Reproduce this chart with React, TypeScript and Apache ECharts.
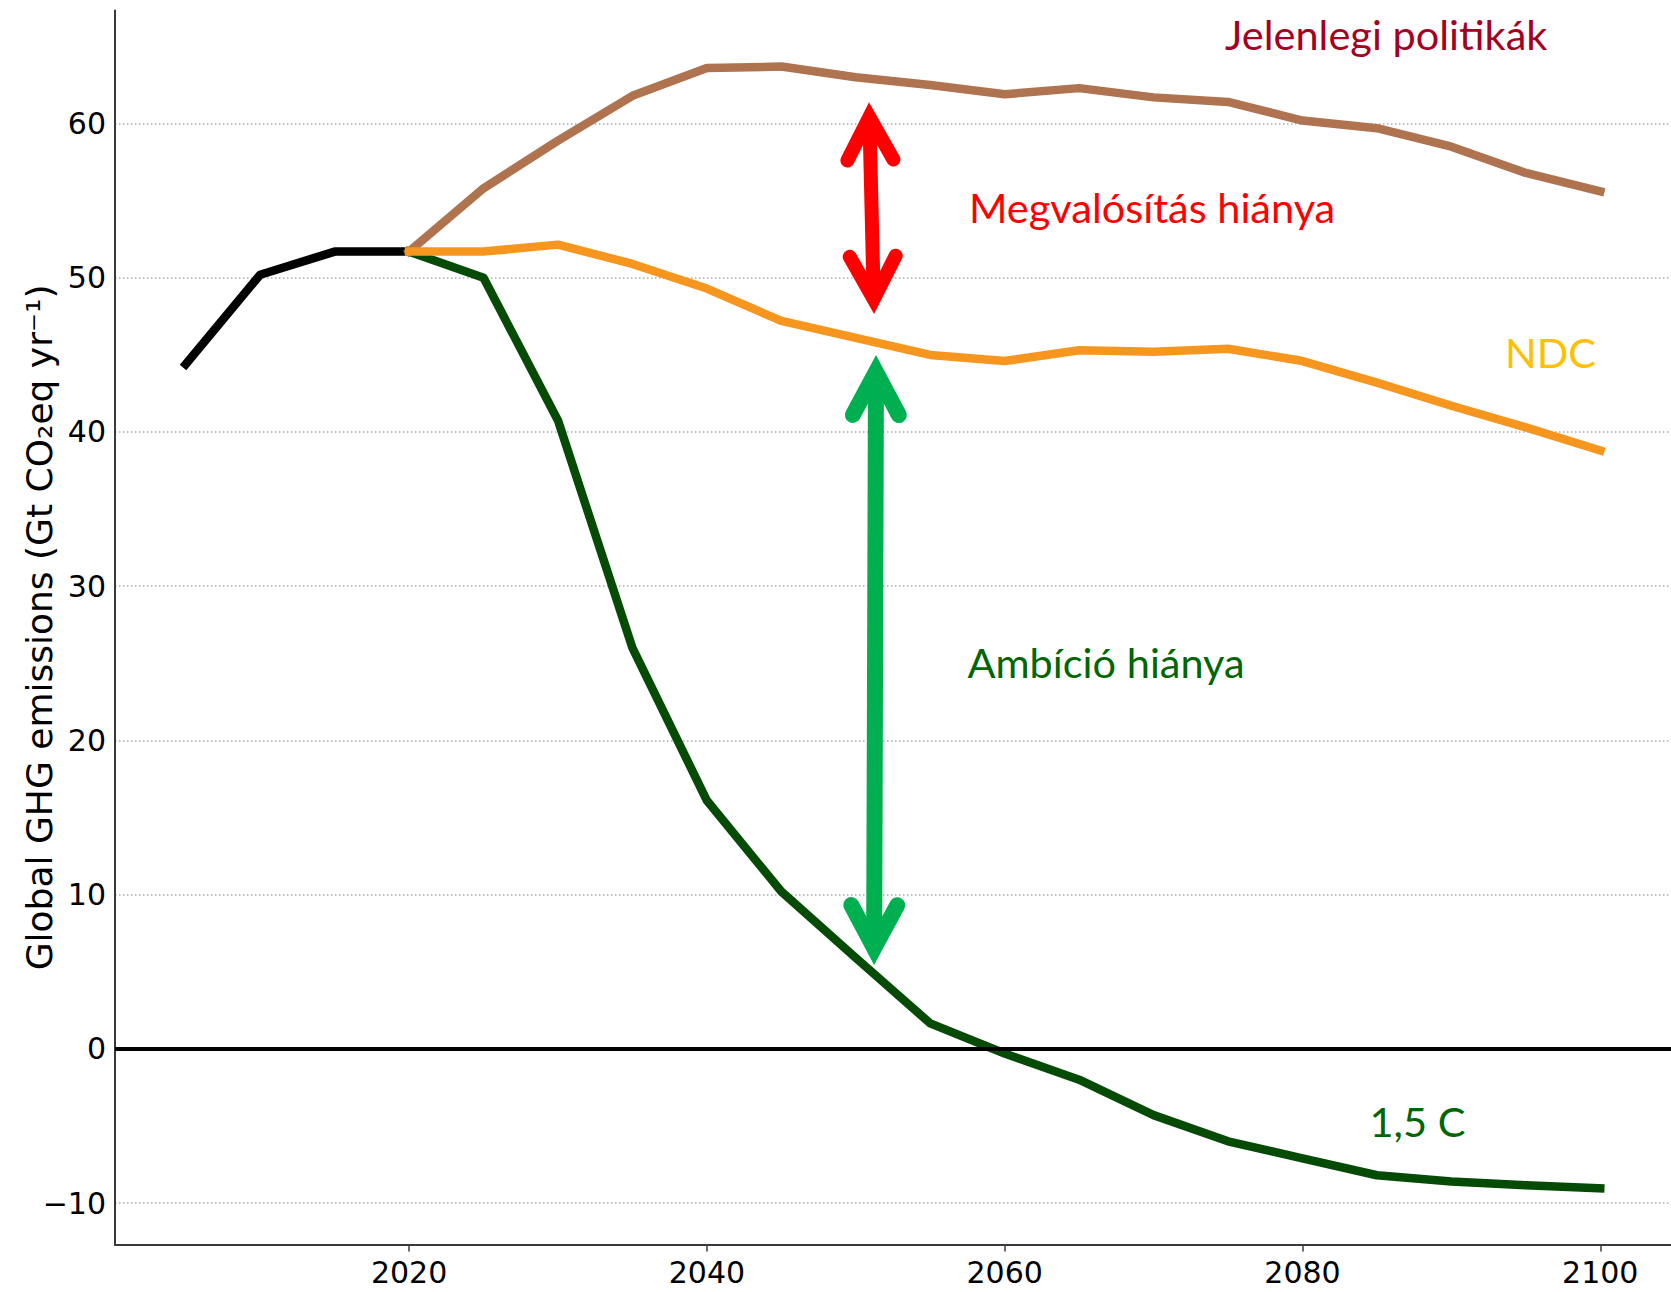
import React, { useEffect, useRef } from "react";
import * as echarts from "echarts";

// ---------- data ----------
const historicYears = [2005, 2010, 2015, 2020];
const historic = [44.4, 50.2, 51.7, 51.7];

const scenarioYears = [2020, 2025, 2030, 2035, 2040, 2045, 2050, 2055, 2060, 2065, 2070, 2075, 2080, 2085, 2090, 2095, 2100];
const currentPolicies = [51.7, 55.8, 58.9, 61.8, 63.6, 63.7, 63.0, 62.5, 61.9, 62.3, 61.7, 61.4, 60.2, 59.7, 58.5, 56.8, 55.6];
const ndc = [51.7, 51.7, 52.15, 50.9, 49.3, 47.2, 46.1, 45.0, 44.6, 45.3, 45.2, 45.4, 44.6, 43.2, 41.7, 40.3, 38.8];
const path15 = [51.7, 50.0, 40.75, 26.0, 16.1, 10.2, 5.9, 1.65, -0.3, -2.0, -4.3, -6.0, -7.1, -8.2, -8.6, -8.85, -9.05];

const xTicks = [2020, 2040, 2060, 2080, 2100];
const yTicks = [-10, 0, 10, 20, 30, 40, 50, 60];
const xRange = [2000.25, 2104.75];
const yRange = [-12.69, 67.34];

const yAxisTitle = "Global GHG emissions (Gt CO\u2082eq yr\u207B\u00B9)";

// annotation anchors in data coordinates
const annotations = [
  { text: "Jelenlegi politikák", x: 2074.8, y: 65.8, color: "#a50021" },
  { text: "Megvalósítás hiánya", x: 2057.6, y: 54.6, color: "#ff0000" },
  { text: "NDC", x: 2093.6, y: 45.19, color: "#ffc000" },
  { text: "Ambíció hiánya", x: 2057.5, y: 25.1, color: "#006600" },
  { text: "1,5 C", x: 2084.5, y: -4.68, color: "#006600" },
];

const gapArrows = [
  { top: [2050.89, 61.39], bottom: [2051.23, 47.65], color: "#ff0000", width: 14 },
  { top: [2051.36, 44.99], bottom: [2051.23, 5.43], color: "#00b050", width: 16 },
];

const pairs = (xs: number[], ys: number[]) => xs.map((x, i) => [x, ys[i]]);

const minus = (v: number) => (v < 0 ? "\u2212" + Math.abs(v) : String(v));

export default function App() {
  const ref = useRef<HTMLDivElement>(null);

  useEffect(() => {
    if (!ref.current) return;
    const chart = echarts.init(ref.current, undefined, { renderer: "svg" });

    const lineBase = (name: string, data: number[][], color: string, z: number) => ({
      name,
      type: "line",
      data,
      showSymbol: false,
      symbol: "none",
      z,
      lineStyle: { color, width: 8.5, cap: "square", join: "round" },
      silent: true,
    });

    const blackSeries: any = lineBase("Historic", pairs(historicYears, historic), "#000000", 3);
    blackSeries.markLine = {
      silent: true,
      symbol: ["none", "none"],
      label: { show: false },
      lineStyle: { color: "#000000", width: 4, type: "solid" },
      data: [{ yAxis: 0 }],
    };

    chart.setOption({
      animation: false,
      backgroundColor: "#ffffff",
      grid: {
        left: 115,
        right: 0,
        top: 10.4,
        bottom: 47.5,
        containLabel: false,
        outerBoundsMode: "none",
      },
      xAxis: {
        type: "value",
        min: xRange[0],
        max: xRange[1],
        axisLine: { show: true, onZero: false, lineStyle: { color: "#3a3a3a", width: 2 } },
        axisTick: {
          show: true,
          inside: false,
          length: 7,
          customValues: xTicks,
          lineStyle: { color: "#3a3a3a", width: 1.5 },
        },
        axisLabel: {
          customValues: xTicks,
          margin: 13,
          color: "#000000",
          fontFamily: "DejaVu Sans",
          fontSize: 30,
          formatter: (v: number) => String(v),
        },
        splitLine: { show: false },
      },
      yAxis: {
        type: "value",
        min: yRange[0],
        max: yRange[1],
        name: yAxisTitle,
        nameLocation: "middle",
        nameRotate: 90,
        nameGap: 58,
        nameMoveOverlap: false,
        nameTextStyle: { color: "#000000", fontFamily: "DejaVu Sans", fontSize: 36 },
        axisLine: { show: true, onZero: false, lineStyle: { color: "#3a3a3a", width: 2 } },
        axisTick: { show: false, customValues: yTicks },
        axisLabel: {
          customValues: yTicks,
          margin: 9,
          color: "#000000",
          fontFamily: "DejaVu Sans",
          fontSize: 30,
          formatter: (v: number) => minus(v),
        },
        splitLine: {
          show: true,
          lineStyle: { color: "#aaaaaa", width: 1.5, type: [1.5, 2.5] },
        },
      },
      series: [
        blackSeries,
        lineBase("1,5 C", pairs(scenarioYears, path15), "#054a05", 4),
        lineBase("Jelenlegi politikák", pairs(scenarioYears, currentPolicies), "#b07350", 5),
        lineBase("NDC", pairs(scenarioYears, ndc), "#f7961f", 6),
      ],
    });

    const toPx = (p: number[]) => chart.convertToPixel({ gridIndex: 0 }, p) as number[];

    const HEAD_DX = 23;
    const HEAD_DY = 43;
    const graphics: any[] = [];

    gapArrows.forEach((a) => {
      const [tx, ty] = toPx(a.top);
      const [bx, by] = toPx(a.bottom);
      const w = a.width;
      const ext = w / 2 / Math.sin(Math.atan(HEAD_DX / HEAD_DY));
      const L = Math.hypot(bx - tx, by - ty);
      const ux = (bx - tx) / L;
      const uy = (by - ty) / L;
      const px = -uy;
      const py = ux;
      const v1 = [tx + ux * ext, ty + uy * ext];
      const v2 = [bx - ux * ext, by - uy * ext];
      graphics.push({
        type: "line",
        z: 50,
        silent: true,
        shape: { x1: v1[0], y1: v1[1], x2: v2[0], y2: v2[1] },
        style: { stroke: a.color, lineWidth: w, lineCap: "butt" },
      });
      const head = (v: number[], dir: number) => [
        [v[0] + dir * ux * HEAD_DY + px * HEAD_DX, v[1] + dir * uy * HEAD_DY + py * HEAD_DX],
        [v[0], v[1]],
        [v[0] + dir * ux * HEAD_DY - px * HEAD_DX, v[1] + dir * uy * HEAD_DY - py * HEAD_DX],
      ];
      [head(v1, 1), head(v2, -1)].forEach((pts) => {
        graphics.push({
          type: "polyline",
          z: 50,
          silent: true,
          shape: { points: pts },
          style: { stroke: a.color, fill: null, lineWidth: w, lineCap: "round", lineJoin: "miter", miterLimit: 10 },
        });
      });
    });

    annotations.forEach((t) => {
      const [x, y] = toPx([t.x, t.y]);
      graphics.push({
        type: "text",
        z: 60,
        silent: true,
        x,
        y,
        style: {
          text: t.text,
          fill: t.color,
          fontFamily: "Lato, 'Open Sans', sans-serif",
          fontSize: 41.5,
          align: "left",
          verticalAlign: "middle",
        },
      });
    });

    chart.setOption({ graphic: graphics });

    return () => chart.dispose();
  }, []);

  return (
    <div
      ref={ref}
      style={{ position: "absolute", left: 0, top: 0, width: 1671, height: 1292, background: "#ffffff" }}
    />
  );
}
